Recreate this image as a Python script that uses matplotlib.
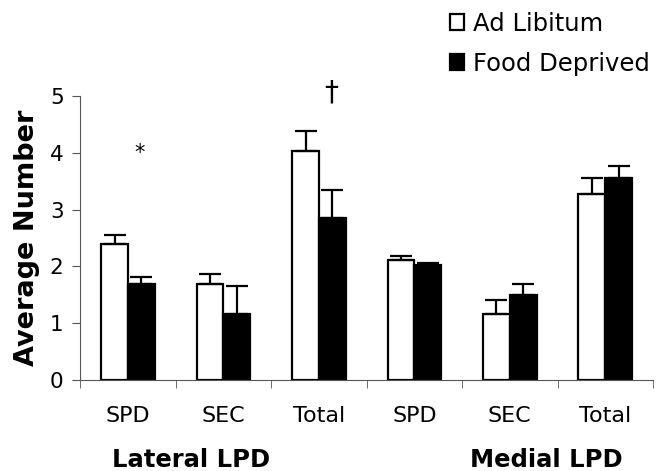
import numpy as np
import matplotlib
matplotlib.use("Agg")
import matplotlib.pyplot as plt

# du lieu doc tu hinh
nhan = ["SPD", "SEC", "Total", "SPD", "SEC", "Total"]
ad_libitum = [2.39, 1.70, 4.04, 2.11, 1.16, 3.27]
ad_libitum_err = [0.17, 0.17, 0.34, 0.08, 0.25, 0.28]
food_deprived = [1.69, 1.16, 2.85, 2.02, 1.49, 3.55]
food_deprived_err = [0.13, 0.49, 0.50, 0.04, 0.21, 0.22]
nhom = ["Lateral LPD", "Medial LPD"]

plt.rcParams['font.family'] = ['DejaVu Sans']
fig = plt.figure(figsize=(6.69, 4.71), dpi=100)
ax = fig.add_axes([0.12, 0.193, 0.856, 0.603])

x = np.arange(len(nhan))
w = 0.28
loi = dict(ecolor='black', elinewidth=1.6, capsize=8, capthick=1.6)
ax.bar(x - w/2, ad_libitum, w, color='white', edgecolor='black', linewidth=1.6,
       yerr=[np.zeros(6), ad_libitum_err], error_kw=loi, label='Ad Libitum')
ax.bar(x + w/2, food_deprived, w, color='black', edgecolor='black', linewidth=1.6,
       yerr=[np.zeros(6), food_deprived_err], error_kw=loi, label='Food Deprived')

ax.set_xlim(-0.5, 5.5)
ax.set_ylim(0, 5)
ax.set_yticks([0, 1, 2, 3, 4, 5])
ax.set_xticks(x)
ax.set_xticklabels(nhan, fontsize=16)
ax.set_xticks(np.arange(-0.5, 6, 1), minor=True)
ax.tick_params(axis='x', which='major', length=0, pad=19)
ax.tick_params(axis='x', which='minor', length=6, color='#555555')
ax.tick_params(axis='y', labelsize=15.5, length=6, color='#555555', pad=6)
for s in ['top', 'right']:
    ax.spines[s].set_visible(False)
ax.spines['left'].set_color('#555555')
ax.spines['bottom'].set_color('#555555')
ax.set_ylabel('Average Number', fontsize=19.5, fontweight='bold', labelpad=7)

ax.text(0.12, 4.0, '*', ha='center', va='center', fontsize=15)
ax.text(2.13, 5.07, '†', ha='center', va='center', fontsize=20)

fig.text(191/669, 0.024, nhom[0], ha='center', va='center', fontsize=17.5, fontweight='bold')
fig.text(546/669, 0.024, nhom[1], ha='center', va='center', fontsize=17.5, fontweight='bold')

fig.legend(loc='upper left', bbox_to_anchor=(0.672, 0.975), frameon=False, borderpad=0,
           borderaxespad=0, fontsize=17.5, handlelength=0.6, handleheight=0.6,
           handletextpad=0.35, labelspacing=0.65)

plt.savefig('out.png', dpi=100)
